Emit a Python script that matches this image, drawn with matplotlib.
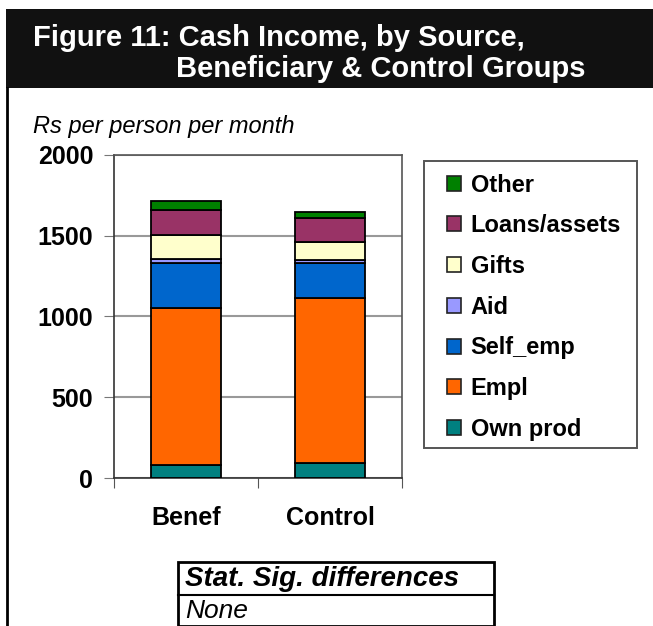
import numpy as np
import matplotlib
matplotlib.use('Agg')
import matplotlib.pyplot as plt
from matplotlib.patches import Rectangle, Patch
from matplotlib.lines import Line2D

plt.rcParams['font.family'] = ['Liberation Sans', 'DejaVu Sans']

groups = ['Benef', 'Control']
sources = ['Own prod', 'Empl', 'Self_emp', 'Aid', 'Gifts', 'Loans/assets', 'Other']
colors = ['#008080', '#FF6600', '#0066CC', '#9999FF', '#FFFFCC', '#993366', '#008000']

own_prod = [80, 95]
empl = [975, 1018]
self_emp = [275, 216]
aid = [25, 22]
gifts = [150, 111]
loans = [155, 148]
other = [55, 35]
values = [own_prod, empl, self_emp, aid, gifts, loans, other]

W, H = 653, 626
fig = plt.figure(figsize=(W / 100, H / 100), dpi=100)

def fx(px):
    return px / W

def fy(py):
    return 1 - py / H

# title band
fig.patches.append(Rectangle((fx(6), fy(88)), fx(W) - fx(6), fy(9) - fy(88),
                             transform=fig.transFigure, facecolor='#111111',
                             edgecolor='none', zorder=0))
fig.text(fx(33), fy(38), 'Figure 11: Cash Income, by Source,', color='white',
         fontsize=21, fontweight='bold', va='center', ha='left')
fig.text(fx(176), fy(69), 'Beneficiary & Control Groups', color='white',
         fontsize=21, fontweight='bold', va='center', ha='left')
# left border of panel
fig.lines.append(Line2D([fx(7), fx(7)], [fy(88), 0], transform=fig.transFigure,
                        color='black', lw=2))

fig.text(fx(33), fy(127), 'Rs per person per month', fontsize=17,
         style='italic', va='center', ha='left')

ax = fig.add_axes([fx(114), fy(478), fx(402) - fx(114), fy(155) - fy(478)])
x = np.arange(len(groups))
bottom = np.zeros(len(groups))
for name, vals, c in zip(sources, values, colors):
    ax.bar(x, vals, width=0.49, bottom=bottom, color=c, edgecolor='black',
           linewidth=1.3, label=name, zorder=3)
    bottom += np.array(vals)

ax.set_xlim(-0.5, 1.5)
ax.set_ylim(0, 2000)
ax.set_yticks([0, 500, 1000, 1500, 2000])
ax.set_xticks([-0.5, 0.5, 1.5], minor=False)
ax.set_xticklabels(['', '', ''])
ax.set_xticks(x, minor=True)
ax.set_xticklabels(groups, minor=True)
ax.tick_params(axis='x', which='minor', length=0, pad=20, labelsize=18)
ax.tick_params(axis='x', which='major', length=7, direction='out', color='#555555')
ax.tick_params(axis='y', length=7, direction='out', color='#777777', labelsize=18, pad=8)
for lab in ax.get_xticklabels(minor=True) + ax.get_yticklabels():
    lab.set_fontweight('bold')
ax.yaxis.grid(True, color='#999999', linewidth=1.5, zorder=0)
for s in ['top', 'right']:
    ax.spines[s].set_color('#555555')
ax.spines['left'].set_color('#333333')
ax.spines['bottom'].set_color('#333333')
for s in ax.spines.values():
    s.set_linewidth(1.2)

# legend with its own frame
fig.patches.append(Rectangle((fx(424), fy(448)), fx(637) - fx(424), fy(161) - fy(448),
                             transform=fig.transFigure, facecolor='white',
                             edgecolor='#555555', linewidth=1.4, zorder=1))
handles = [Patch(facecolor=c, edgecolor='#222222', linewidth=1.2) for c in colors][::-1]
leg = fig.legend(handles, sources[::-1], loc='upper left',
                 bbox_to_anchor=(fx(447), fy(173.5)), frameon=False,
                 prop={'size': 17, 'weight': 'bold'},
                 handlelength=0.6, handleheight=0.6, handletextpad=0.4,
                 labelspacing=0.75, borderpad=0, borderaxespad=0)
leg.set_zorder(2)

# stats table
tl, tr, ttop, tmid = 178, 494, 562, 595
fig.patches.append(Rectangle((fx(tl), 0), fx(tr) - fx(tl), fy(ttop),
                             transform=fig.transFigure, facecolor='white',
                             edgecolor='black', linewidth=2, zorder=1))
fig.lines.append(Line2D([fx(tl), fx(tr)], [fy(tmid), fy(tmid)],
                        transform=fig.transFigure, color='black', lw=1.5))
fig.text(fx(185), fy(579), 'Stat. Sig. differences', fontsize=20,
         fontweight='bold', style='italic', va='center', ha='left')
fig.text(fx(185), fy(611), 'None', fontsize=19, style='italic',
         va='center', ha='left')

fig.savefig('out.png', dpi=100)
